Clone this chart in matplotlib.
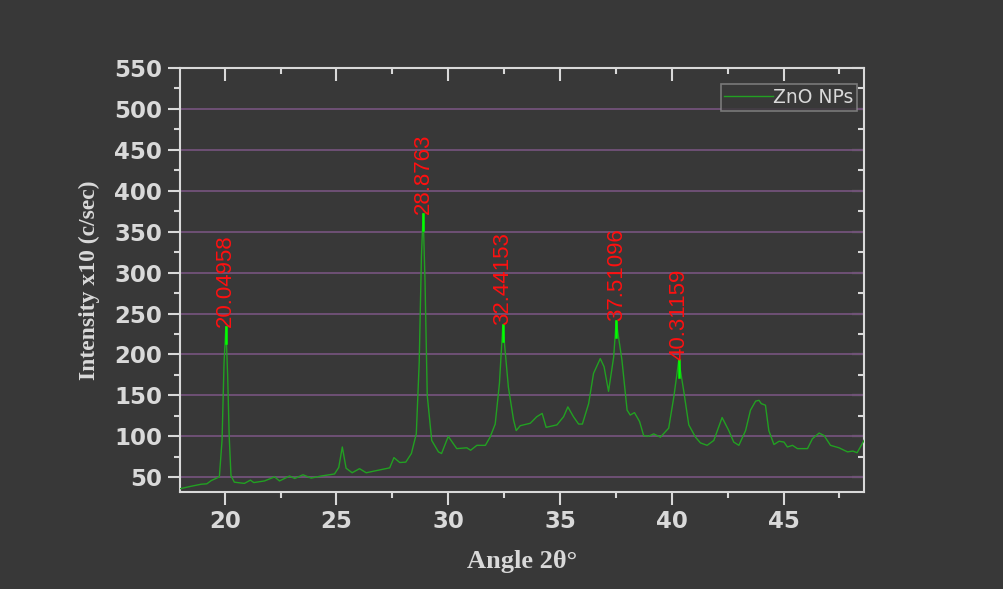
import numpy as np
import matplotlib
matplotlib.use("Agg")
import matplotlib.pyplot as plt
from matplotlib.ticker import MultipleLocator

# --------------------------
# Data
# --------------------------
angle = [18.0, 18.5, 18.95, 19.2, 19.4, 19.6, 19.76, 19.88, 19.97, 20.04958,
         20.13, 20.2, 20.28, 20.43, 20.88, 21.15, 21.3, 21.78, 22.23, 22.45,
         22.9, 23.13, 23.5, 23.87, 24.31, 24.91, 25.1, 25.26, 25.43, 25.7,
         26.03, 26.33, 26.85, 27.38, 27.57, 27.83, 28.1, 28.35, 28.57, 28.7,
         28.8, 28.8763, 28.96, 29.06, 29.26, 29.56, 29.7, 30.0, 30.38, 30.83,
         31.0, 31.28, 31.66, 31.87, 32.1, 32.29, 32.44153, 32.69, 32.92, 33.04,
         33.22, 33.67, 33.96, 34.2, 34.38, 34.86, 35.16, 35.35, 35.6, 35.83,
         36.0, 36.28, 36.5, 36.8, 36.97, 37.17, 37.4, 37.51096, 37.77, 38.0,
         38.14, 38.33, 38.56, 38.74, 38.96, 39.19, 39.49, 39.86, 40.09, 40.31159,
         40.53, 40.76, 41.06, 41.28, 41.58, 41.88, 42.25, 42.55, 42.77, 43.0,
         43.3, 43.52, 43.75, 43.9, 44.0, 44.19, 44.34, 44.57, 44.8, 45.02,
         45.17, 45.4, 45.62, 46.07, 46.29, 46.59, 46.81, 47.1, 47.48, 47.86,
         48.1, 48.29, 48.6]
intensity = [36, 39, 41.5, 42, 46, 48.5, 50.5, 95, 190, 234,
             175, 100, 52, 44, 42.5, 46.5, 43.5, 45.5, 50.5, 45.5,
             51.5, 48.5, 53, 49, 51.5, 54, 62, 87, 61, 55.5,
             60.5, 55.5, 58.5, 61.5, 74, 68, 68.5, 79, 103, 190,
             320, 372, 290, 150, 95, 81, 79, 100, 85, 86,
             83, 89, 89, 99, 115, 165, 236, 160, 120, 107,
             113, 116, 124, 128, 111, 114, 124, 136, 124, 115,
             115, 140, 177, 195, 185, 155, 197, 241, 193, 132,
             126, 129, 118, 101, 100, 103, 99, 110, 148, 193,
             156, 114, 99, 92, 89, 95, 123, 107, 93, 89,
             107, 132, 143, 144, 140, 138, 107, 90, 94, 93,
             87, 89, 85, 85, 97, 104, 101, 89, 86, 81,
             82, 80, 95]

peak_angles = [20.04958, 28.8763, 32.44153, 37.51096, 40.31159]
peak_labels = ["20.04958", "28.8763", "32.44153", "37.51096", "40.31159"]

BG = "#383838"
FG = "#d9d9d9"
GRID = "#6e5075"

fig = plt.figure(figsize=(10.04, 5.89), dpi=100, facecolor=BG)
ax = fig.add_axes([0.1793, 0.1647, 0.6813, 0.7198], facecolor=BG)

ax.plot(angle, intensity, color="#22a022", lw=1.0, label="ZnO NPs", zorder=3)

# peak markers + labels
for pa, lab in zip(peak_angles, peak_labels):
    py = np.interp(pa, angle, intensity)
    ax.plot([pa, pa], [py - 20, py], color="#00ff00", lw=1.8, zorder=4)
    ax.text(pa, py, lab, rotation=90, ha="center", va="bottom",
            color="#ff1010", fontsize=16, family="Liberation Sans", zorder=5)

ax.set_xlim(18.0, 48.6)
ax.set_ylim(32, 550)
ax.xaxis.set_major_locator(MultipleLocator(5))
ax.xaxis.set_minor_locator(MultipleLocator(2.5))
ax.yaxis.set_major_locator(MultipleLocator(50))
ax.yaxis.set_minor_locator(MultipleLocator(25))

for y in range(50, 550, 50):
    ax.axhline(y, color=GRID, lw=1.4, zorder=1)

for sp in ax.spines.values():
    sp.set_color(FG)
    sp.set_linewidth(1.5)

ax.tick_params(which="both", colors=FG, width=1.5)
ax.tick_params(which="major", length=9)
ax.tick_params(which="minor", length=4.5)
ax.tick_params(axis="both", which="both", direction="out", top=False, right=False)
ax.tick_params(axis="both", labelsize=16.5, pad=4)

# inward mirror ticks on top and right
axt = ax.secondary_xaxis("top")
axt.xaxis.set_major_locator(MultipleLocator(5))
axt.xaxis.set_minor_locator(MultipleLocator(2.5))
axt.tick_params(which="both", direction="in", colors=FG, width=1.5, labeltop=False)
axt.tick_params(which="major", length=9)
axt.tick_params(which="minor", length=4.5)
axt.spines["top"].set_visible(False)
axr = ax.secondary_yaxis("right")
axr.yaxis.set_major_locator(MultipleLocator(50))
axr.yaxis.set_minor_locator(MultipleLocator(25))
axr.tick_params(which="both", direction="in", colors=FG, width=1.5, labelright=False)
axr.tick_params(which="major", length=9)
axr.tick_params(which="minor", length=4.5)
axr.spines["right"].set_visible(False)

for lbl in ax.get_xticklabels() + ax.get_yticklabels():
    lbl.set_fontweight("bold")
    lbl.set_family("DejaVu Sans")
    lbl.set_color(FG)

ax.set_xlabel("Angle 2θ°", family="Liberation Serif", fontweight="bold",
              fontsize=19, color=FG, labelpad=12)
ax.set_ylabel("Intensity x10 (c/sec)", family="Liberation Serif", fontweight="bold",
              fontsize=17, color=FG, labelpad=10)

leg = ax.legend(loc="upper right", bbox_to_anchor=(0.99, 0.962), frameon=True,
                fancybox=False, handlelength=2.6, fontsize=13.5, borderpad=0.2,
                borderaxespad=0.0, handletextpad=0.0, labelcolor=FG)
leg.get_frame().set_facecolor(BG)
leg.get_frame().set_edgecolor("#8a8a8a")
leg.get_frame().set_linewidth(1.2)

fig.savefig("out.png", dpi=100, facecolor=BG)
